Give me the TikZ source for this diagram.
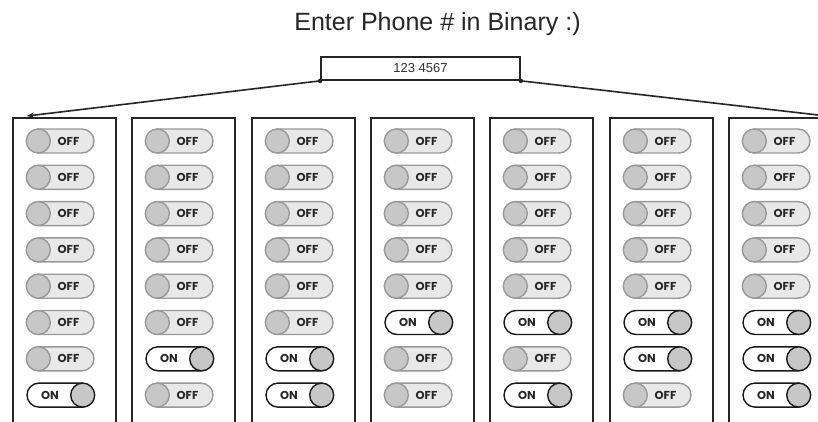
\documentclass[tikz,border=0pt]{standalone}
\usepackage{fontspec}
\setmainfont{Liberation Sans}
\newfontfamily\togfont{Poppins}
\usetikzlibrary{shapes.misc,arrows.meta}
\begin{document}
\begin{tikzpicture}[x=1pt,y=-1pt,
  panel/.style={draw=black!85, line width=2pt, minimum width=103pt, minimum height=330pt, anchor=north west, inner sep=0pt},
  track/.style={rounded rectangle, line width=1.4pt, minimum width=67pt, minimum height=24pt, inner sep=0pt},
  offtrack/.style={track, draw=black!40, fill=black!9},
  ontrack/.style={track, draw=black!90, fill=white},
  knob/.style={circle, line width=1.4pt, minimum size=24pt, inner sep=0pt, fill=black!22},
  offknob/.style={knob, draw=black!40},
  onknob/.style={knob, draw=black!90},
  toglabel/.style={font=\togfont\bfseries\fontsize{11.5}{11.5}\selectfont, text=black!85, inner sep=0pt},
  title/.style={font=\fontsize{25}{25}\selectfont, text=black!85, anchor=base},
  phonebox/.style={draw=black!85, line width=1.7pt, minimum width=199pt, minimum height=23pt, inner sep=0pt, font=\fontsize{13}{13}\selectfont, text=black!80},
  link/.style={line width=1.6pt, black!85, -{Stealth[length=7pt,width=5.5pt]}},
  dot/.style={circle, fill=black!85, inner sep=0pt, minimum size=4.5pt}
]
\useasboundingbox (0,0) rectangle (818,422);
\clip (0,0) rectangle (818,422);
\fill[white] (0,0) rectangle (818,422);

\node[title] (title) at (437.5,31) {Enter Phone \# in Binary :)};
\node[phonebox] (phone) at (420.5,68.5) {123 4567};

\foreach \d [count=\i from 0] in {1,2,3,4,5,6,7} {
  \pgfmathsetmacro\px{round(12+119.3*\i)}
  \node[panel] (p\i) at (\px,117) {};
  \foreach \j in {1,...,8} {
    \pgfmathsetmacro\cx{\px+48.5}
    \pgfmathsetmacro\cy{141+36.3*(\j-1)}
    \pgfmathtruncatemacro\bit{mod(floor(\d/pow(2,8-\j)),2)}
    \ifnum\bit=1
      \node[ontrack] (t\i-\j) at (\cx,\cy) {};
      \node[onknob] (k\i-\j) at ([xshift=-12pt]t\i-\j.east) {};
      \node[toglabel] (l\i-\j) at ([xshift=-10.5pt]t\i-\j.center) {ON};
    \else
      \node[offtrack] (t\i-\j) at (\cx,\cy) {};
      \node[offknob] (k\i-\j) at ([xshift=12pt]t\i-\j.west) {};
      \node[toglabel] (l\i-\j) at ([xshift=8pt]t\i-\j.center) {OFF};
    \fi
  }
}

\coordinate (tipL) at (27,116);
\coordinate (tipR) at (832,116.6);
\node[dot] (dL) at (phone.south west) {};
\node[dot] (dR) at (phone.south east) {};
\draw[link] (dL.center) -- (tipL);
\draw[link] (dR.center) -- (tipR);
\end{tikzpicture}
\end{document}
